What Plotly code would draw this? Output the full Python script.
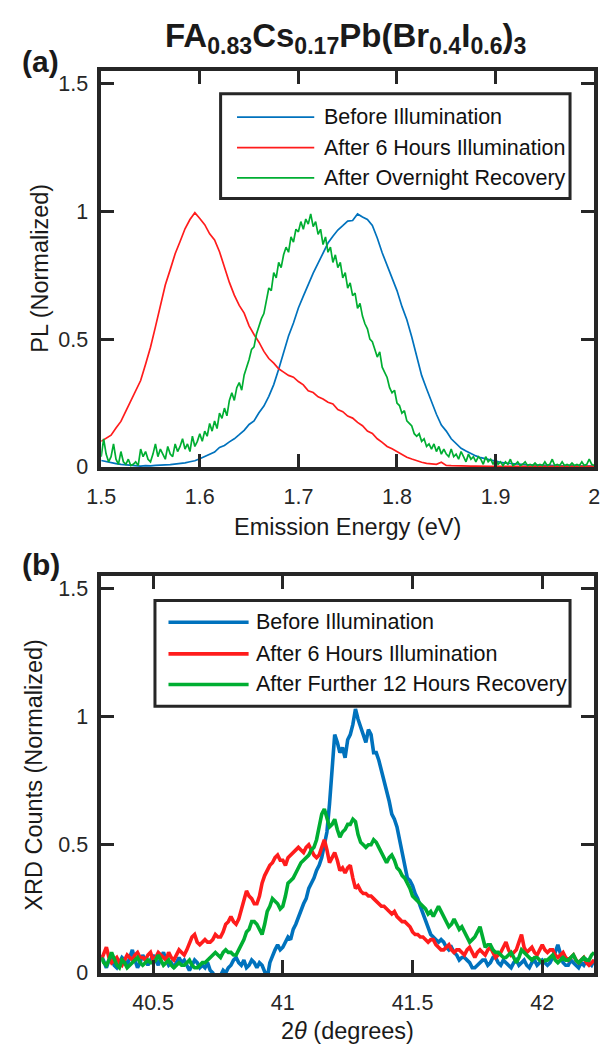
import plotly.graph_objects as go

# ---------------- (a) photoluminescence spectra ----------------
pl_energy = [
    1.500, 1.505, 1.510, 1.515, 1.520, 1.525, 1.530, 1.535, 1.540, 1.545,
    1.550, 1.555, 1.560, 1.565, 1.570, 1.575, 1.580, 1.585, 1.590, 1.595,
    1.600, 1.605, 1.610, 1.615, 1.620, 1.625, 1.630, 1.635, 1.640, 1.645,
    1.650, 1.655, 1.660, 1.665, 1.670, 1.675, 1.680, 1.685, 1.690, 1.695,
    1.700, 1.705, 1.710, 1.715, 1.720, 1.725, 1.730, 1.735, 1.740, 1.745,
    1.750, 1.755, 1.760, 1.765, 1.770, 1.775, 1.780, 1.785, 1.790, 1.795,
    1.800, 1.805, 1.810, 1.815, 1.820, 1.825, 1.830, 1.835, 1.840, 1.845,
    1.850, 1.855, 1.860, 1.865, 1.870, 1.875, 1.880, 1.885, 1.890, 1.895,
    1.900, 1.905, 1.910, 1.915, 1.920, 1.925, 1.930, 1.935, 1.940, 1.945,
    1.950, 1.955, 1.960, 1.965, 1.970, 1.975, 1.980, 1.985, 1.990, 1.995,
    2.000,
]

pl_before = [
    0.025, 0.020, 0.018, 0.013, 0.010, 0.008, 0.006, 0.004, 0.003, 0.005,
    0.004, 0.006, 0.006, 0.008, 0.009, 0.011, 0.013, 0.016, 0.020, 0.024,
    0.032, 0.040, 0.050, 0.058, 0.076, 0.084, 0.098, 0.110, 0.126, 0.143,
    0.166, 0.180, 0.212, 0.238, 0.276, 0.322, 0.382, 0.443, 0.512, 0.563,
    0.622, 0.668, 0.716, 0.758, 0.797, 0.834, 0.876, 0.903, 0.927, 0.944,
    0.962, 0.964, 0.990, 0.978, 0.968, 0.945, 0.896, 0.838, 0.786, 0.734,
    0.690, 0.628, 0.576, 0.508, 0.432, 0.358, 0.306, 0.254, 0.206, 0.164,
    0.140, 0.110, 0.091, 0.073, 0.062, 0.051, 0.043, 0.036, 0.031, 0.025,
    0.022, 0.018, 0.015, 0.013, 0.011, 0.010, 0.009, 0.008, 0.008, 0.007,
    0.006, 0.006, 0.005, 0.005, 0.005, 0.004, 0.004, 0.004, 0.003, 0.003,
    0.003,
]

pl_after_illum = [
    0.100, 0.112, 0.124, 0.152, 0.178, 0.218, 0.258, 0.298, 0.338, 0.402,
    0.468, 0.548, 0.632, 0.712, 0.772, 0.834, 0.882, 0.932, 0.968, 0.995,
    0.972, 0.948, 0.912, 0.888, 0.842, 0.782, 0.722, 0.672, 0.632, 0.602,
    0.552, 0.518, 0.488, 0.452, 0.424, 0.406, 0.384, 0.371, 0.358, 0.351,
    0.334, 0.321, 0.298, 0.291, 0.274, 0.266, 0.253, 0.246, 0.224, 0.216,
    0.199, 0.191, 0.174, 0.161, 0.140, 0.131, 0.110, 0.096, 0.080, 0.071,
    0.059, 0.049, 0.038, 0.031, 0.024, 0.018, 0.014, 0.012, 0.010, 0.018,
    0.006, 0.005, 0.004, 0.004, 0.003, 0.003, 0.003, 0.002, 0.002, 0.002,
    0.002, 0.002, 0.002, 0.002, 0.002, 0.002, 0.002, 0.002, 0.002, 0.002,
    0.002, 0.002, 0.002, 0.002, 0.002, 0.002, 0.002, 0.002, 0.002, 0.002,
    0.002,
]

# the recovered spectrum is noisier, so it is kept at a finer step
pl_energy_fine = [
    1.5000, 1.5025, 1.5050, 1.5075, 1.5100, 1.5125, 1.5150, 1.5175, 1.5200, 1.5225,
    1.5250, 1.5275, 1.5300, 1.5325, 1.5350, 1.5375, 1.5400, 1.5425, 1.5450, 1.5475,
    1.5500, 1.5525, 1.5550, 1.5575, 1.5600, 1.5625, 1.5650, 1.5675, 1.5700, 1.5725,
    1.5750, 1.5775, 1.5800, 1.5825, 1.5850, 1.5875, 1.5900, 1.5925, 1.5950, 1.5975,
    1.6000, 1.6025, 1.6050, 1.6075, 1.6100, 1.6125, 1.6150, 1.6175, 1.6200, 1.6225,
    1.6250, 1.6275, 1.6300, 1.6325, 1.6350, 1.6375, 1.6400, 1.6425, 1.6450, 1.6475,
    1.6500, 1.6525, 1.6550, 1.6575, 1.6600, 1.6625, 1.6650, 1.6675, 1.6700, 1.6725,
    1.6750, 1.6775, 1.6800, 1.6825, 1.6850, 1.6875, 1.6900, 1.6925, 1.6950, 1.6975,
    1.7000, 1.7025, 1.7050, 1.7075, 1.7100, 1.7125, 1.7150, 1.7175, 1.7200, 1.7225,
    1.7250, 1.7275, 1.7300, 1.7325, 1.7350, 1.7375, 1.7400, 1.7425, 1.7450, 1.7475,
    1.7500, 1.7525, 1.7550, 1.7575, 1.7600, 1.7625, 1.7650, 1.7675, 1.7700, 1.7725,
    1.7750, 1.7775, 1.7800, 1.7825, 1.7850, 1.7875, 1.7900, 1.7925, 1.7950, 1.7975,
    1.8000, 1.8025, 1.8050, 1.8075, 1.8100, 1.8125, 1.8150, 1.8175, 1.8200, 1.8225,
    1.8250, 1.8275, 1.8300, 1.8325, 1.8350, 1.8375, 1.8400, 1.8425, 1.8450, 1.8475,
    1.8500, 1.8525, 1.8550, 1.8575, 1.8600, 1.8625, 1.8650, 1.8675, 1.8700, 1.8725,
    1.8750, 1.8775, 1.8800, 1.8825, 1.8850, 1.8875, 1.8900, 1.8925, 1.8950, 1.8975,
    1.9000, 1.9025, 1.9050, 1.9075, 1.9100, 1.9125, 1.9150, 1.9175, 1.9200, 1.9225,
    1.9250, 1.9275, 1.9300, 1.9325, 1.9350, 1.9375, 1.9400, 1.9425, 1.9450, 1.9475,
    1.9500, 1.9525, 1.9550, 1.9575, 1.9600, 1.9625, 1.9650, 1.9675, 1.9700, 1.9725,
    1.9750, 1.9775, 1.9800, 1.9825, 1.9850, 1.9875, 1.9900, 1.9925, 1.9950, 1.9975,
    2.0000,
]

pl_recovered = [
    0.040, 0.110, 0.050, 0.020, 0.040, 0.090, 0.030, 0.010, 0.060, 0.020,
    0.010, 0.030, 0.005, 0.010, 0.020, 0.005, 0.070, 0.040, 0.060, 0.030,
    0.020, 0.050, 0.090, 0.040, 0.070, 0.050, 0.030, 0.080, 0.050, 0.040,
    0.090, 0.060, 0.080, 0.110, 0.070, 0.090, 0.060, 0.120, 0.080, 0.100,
    0.130, 0.100, 0.140, 0.120, 0.170, 0.140, 0.180, 0.150, 0.210, 0.190,
    0.230, 0.200, 0.260, 0.290, 0.260, 0.310, 0.330, 0.300, 0.360, 0.390,
    0.420, 0.460, 0.470, 0.520, 0.550, 0.580, 0.600, 0.650, 0.700, 0.690,
    0.760, 0.740, 0.800, 0.780, 0.830, 0.860, 0.840, 0.900, 0.880, 0.930,
    0.920, 0.960, 0.930, 0.970, 0.950, 0.990, 0.940, 0.960, 0.910, 0.930,
    0.870, 0.900, 0.840, 0.860, 0.800, 0.830, 0.780, 0.800, 0.740, 0.760,
    0.700, 0.720, 0.670, 0.680, 0.620, 0.640, 0.590, 0.560, 0.540, 0.500,
    0.490, 0.460, 0.430, 0.450, 0.390, 0.370, 0.350, 0.310, 0.290, 0.300,
    0.250, 0.240, 0.210, 0.220, 0.180, 0.170, 0.160, 0.130, 0.120, 0.130,
    0.100, 0.110, 0.080, 0.090, 0.070, 0.090, 0.060, 0.080, 0.050, 0.070,
    0.050, 0.040, 0.070, 0.040, 0.050, 0.030, 0.060, 0.040, 0.020, 0.050,
    0.030, 0.040, 0.020, 0.040, 0.030, 0.010, 0.040, 0.020, 0.030, 0.010,
    0.030, 0.010, 0.020, 0.005, 0.020, 0.010, 0.030, 0.005, 0.010, 0.020,
    0.005, 0.010, 0.020, 0.005, 0.010, 0.005, 0.015, 0.005, 0.010, 0.005,
    0.020, 0.005, 0.010, 0.030, 0.005, 0.010, 0.005, 0.020, 0.005, 0.010,
    0.005, 0.015, 0.005, 0.010, 0.005, 0.020, 0.005, 0.010, 0.030, 0.010,
    0.005,
]

# ---------------- (b) X-ray diffraction peak ----------------
xrd_angle = [
    40.30, 40.31, 40.32, 40.33, 40.34, 40.35, 40.36, 40.37, 40.38, 40.39,
    40.40, 40.41, 40.42, 40.43, 40.44, 40.45, 40.46, 40.47, 40.48, 40.49,
    40.50, 40.51, 40.52, 40.53, 40.54, 40.55, 40.56, 40.57, 40.58, 40.59,
    40.60, 40.61, 40.62, 40.63, 40.64, 40.65, 40.66, 40.67, 40.68, 40.69,
    40.70, 40.71, 40.72, 40.73, 40.74, 40.75, 40.76, 40.77, 40.78, 40.79,
    40.80, 40.81, 40.82, 40.83, 40.84, 40.85, 40.86, 40.87, 40.88, 40.89,
    40.90, 40.91, 40.92, 40.93, 40.94, 40.95, 40.96, 40.97, 40.98, 40.99,
    41.00, 41.01, 41.02, 41.03, 41.04, 41.05, 41.06, 41.07, 41.08, 41.09,
    41.10, 41.11, 41.12, 41.13, 41.14, 41.15, 41.16, 41.17, 41.18, 41.19,
    41.20, 41.21, 41.22, 41.23, 41.24, 41.25, 41.26, 41.27, 41.28, 41.29,
    41.30, 41.31, 41.32, 41.33, 41.34, 41.35, 41.36, 41.37, 41.38, 41.39,
    41.40, 41.41, 41.42, 41.43, 41.44, 41.45, 41.46, 41.47, 41.48, 41.49,
    41.50, 41.51, 41.52, 41.53, 41.54, 41.55, 41.56, 41.57, 41.58, 41.59,
    41.60, 41.61, 41.62, 41.63, 41.64, 41.65, 41.66, 41.67, 41.68, 41.69,
    41.70, 41.71, 41.72, 41.73, 41.74, 41.75, 41.76, 41.77, 41.78, 41.79,
    41.80, 41.81, 41.82, 41.83, 41.84, 41.85, 41.86, 41.87, 41.88, 41.89,
    41.90, 41.91, 41.92, 41.93, 41.94, 41.95, 41.96, 41.97, 41.98, 41.99,
    42.00, 42.01, 42.02, 42.03, 42.04, 42.05, 42.06, 42.07, 42.08, 42.09,
    42.10, 42.11, 42.12, 42.13, 42.14, 42.15, 42.16, 42.17, 42.18, 42.19,
    42.20,
]

xrd_before = [
    0.07, 0.04, 0.02, 0.05, 0.06, 0.03, 0.02, 0.04, 0.06, 0.05,
    0.03, 0.06, 0.09, 0.05, 0.02, 0.04, 0.07, 0.05, 0.03, 0.05,
    0.07, 0.05, 0.03, 0.06, 0.08, 0.05, 0.03, 0.04, 0.02, 0.04,
    0.06, 0.04, 0.05, 0.03, 0.01, 0.03, 0.05, 0.04, 0.02, 0.03,
    0.02, 0.04, 0.01, 0.00, -0.02, -0.03, -0.01, 0.01, 0.00, 0.02,
    0.03, 0.05, 0.06, 0.04, 0.03, 0.05, 0.02, 0.03, 0.05, 0.04,
    0.02, 0.04, 0.03, 0.00, -0.02, 0.04, 0.07, 0.09, 0.11, 0.09,
    0.10, 0.12, 0.14, 0.13, 0.17, 0.19, 0.22, 0.24, 0.27, 0.29,
    0.33, 0.35, 0.37, 0.40, 0.42, 0.45, 0.50, 0.55, 0.66, 0.80,
    0.93, 0.90, 0.86, 0.88, 0.84, 0.91, 0.93, 0.97, 1.03, 0.99,
    0.96, 0.92, 0.90, 0.95, 0.93, 0.86, 0.86, 0.83, 0.79, 0.76,
    0.72, 0.67, 0.62, 0.60, 0.57, 0.52, 0.47, 0.42, 0.37, 0.36,
    0.34, 0.31, 0.29, 0.26, 0.23, 0.20, 0.17, 0.15, 0.14, 0.13,
    0.12, 0.13, 0.12, 0.10, 0.09, 0.10, 0.08, 0.07, 0.05, 0.06,
    0.06, 0.05, 0.04, 0.02, 0.02, 0.03, 0.04, 0.05, 0.05, 0.03,
    0.04, 0.06, 0.06, 0.04, 0.03, 0.05, 0.04, 0.03, 0.02, 0.04,
    0.05, 0.03, 0.04, 0.05, 0.03, 0.02, 0.04, 0.05, 0.03, 0.04,
    0.05, 0.04, 0.03, 0.04, 0.06, 0.08, 0.11, 0.07, 0.04, 0.03,
    0.03, 0.05, 0.04, 0.03, 0.02, 0.04, 0.03, 0.05, 0.04, 0.03,
    0.05,
]

xrd_after_illum = [
    0.05, 0.08, 0.10, 0.06, 0.04, 0.05, 0.06, 0.04, 0.03, 0.05,
    0.07, 0.06, 0.05, 0.07, 0.08, 0.06, 0.06, 0.05, 0.07, 0.08,
    0.05, 0.06, 0.08, 0.07, 0.06, 0.05, 0.08, 0.06, 0.05, 0.07,
    0.09, 0.08, 0.07, 0.09, 0.12, 0.14, 0.15, 0.12, 0.11, 0.12,
    0.13, 0.12, 0.12, 0.13, 0.15, 0.14, 0.14, 0.16, 0.19, 0.20,
    0.22, 0.20, 0.19, 0.21, 0.25, 0.28, 0.32, 0.30, 0.29, 0.27,
    0.27, 0.30, 0.35, 0.38, 0.40, 0.42, 0.43, 0.45, 0.46, 0.44,
    0.44, 0.42, 0.45, 0.46, 0.47, 0.48, 0.49, 0.48, 0.47, 0.49,
    0.50, 0.48, 0.46, 0.45, 0.46, 0.49, 0.52, 0.48, 0.43, 0.45,
    0.47, 0.44, 0.40, 0.41, 0.39, 0.41, 0.42, 0.37, 0.33, 0.34,
    0.32, 0.31, 0.31, 0.30, 0.30, 0.29, 0.28, 0.27, 0.26, 0.26,
    0.25, 0.24, 0.23, 0.24, 0.22, 0.21, 0.20, 0.20, 0.19, 0.18,
    0.16, 0.15, 0.15, 0.14, 0.14, 0.13, 0.12, 0.13, 0.13, 0.11,
    0.10, 0.09, 0.09, 0.10, 0.11, 0.09, 0.08, 0.09, 0.09, 0.08,
    0.07, 0.09, 0.10, 0.08, 0.06, 0.08, 0.09, 0.08, 0.07, 0.09,
    0.10, 0.08, 0.06, 0.07, 0.08, 0.10, 0.12, 0.09, 0.07, 0.08,
    0.09, 0.12, 0.15, 0.10, 0.08, 0.09, 0.10, 0.08, 0.07, 0.09,
    0.11, 0.09, 0.08, 0.09, 0.09, 0.07, 0.06, 0.07, 0.08, 0.06,
    0.05, 0.06, 0.07, 0.05, 0.04, 0.05, 0.06, 0.04, 0.03, 0.04,
    0.05,
]

xrd_recovered = [
    0.06, 0.04, 0.03, 0.05, 0.08, 0.05, 0.03, 0.02, 0.05, 0.04,
    0.02, 0.03, 0.04, 0.05, 0.06, 0.04, 0.03, 0.04, 0.05, 0.04,
    0.04, 0.05, 0.07, 0.05, 0.03, 0.04, 0.05, 0.03, 0.02, 0.03,
    0.04, 0.03, 0.03, 0.04, 0.05, 0.03, 0.02, 0.02, 0.03, 0.04,
    0.04, 0.05, 0.06, 0.07, 0.08, 0.07, 0.06, 0.08, 0.09, 0.08,
    0.08, 0.07, 0.07, 0.09, 0.11, 0.13, 0.16, 0.17, 0.20, 0.20,
    0.19, 0.17, 0.15, 0.19, 0.24, 0.26, 0.29, 0.28, 0.27, 0.25,
    0.26, 0.30, 0.35, 0.36, 0.37, 0.39, 0.41, 0.43, 0.44, 0.45,
    0.46, 0.48, 0.49, 0.52, 0.57, 0.62, 0.64, 0.60, 0.57, 0.58,
    0.60, 0.56, 0.53, 0.55, 0.56, 0.58, 0.58, 0.60, 0.59, 0.54,
    0.51, 0.50, 0.49, 0.50, 0.50, 0.52, 0.51, 0.49, 0.47, 0.45,
    0.43, 0.45, 0.46, 0.44, 0.41, 0.40, 0.38, 0.37, 0.35, 0.33,
    0.30, 0.29, 0.28, 0.27, 0.26, 0.25, 0.23, 0.24, 0.22, 0.24,
    0.26, 0.24, 0.22, 0.20, 0.18, 0.19, 0.21, 0.19, 0.17, 0.18,
    0.16, 0.14, 0.12, 0.13, 0.14, 0.16, 0.18, 0.14, 0.10, 0.11,
    0.11, 0.09, 0.08, 0.08, 0.07, 0.06, 0.06, 0.07, 0.08, 0.06,
    0.04, 0.06, 0.09, 0.08, 0.07, 0.06, 0.05, 0.06, 0.06, 0.05,
    0.04, 0.05, 0.05, 0.06, 0.07, 0.05, 0.04, 0.05, 0.06, 0.05,
    0.05, 0.06, 0.07, 0.05, 0.04, 0.05, 0.06, 0.05, 0.05, 0.07,
    0.08,
]

pl_names = ["Before Illumination", "After 6 Hours Illumination", "After Overnight Recovery"]
xrd_names = ["Before Illumination", "After 6 Hours Illumination", "After Further 12 Hours Recovery"]
colors = ["#0072BD", "#FF1C1C", "#00AE32"]

pl_ticks = [1.5, 1.6, 1.7, 1.8, 1.9, 2.0]
pl_ticktext = ["1.5", "1.6", "1.7", "1.8", "1.9", "2"]
xrd_ticks = [40.5, 41.0, 41.5, 42.0]
xrd_ticktext = ["40.5", "41", "41.5", "42"]
y_ticks = [0, 0.5, 1, 1.5]
y_ticktext = ["0", "0.5", "1", "1.5"]

W, H = 605, 1059
FONT = "Liberation Sans, Arial, Helvetica, sans-serif"
INK = "#262626"


def px(x):
    return x / W


def py(y):
    return 1 - y / H


fig = go.Figure()

pl_series = [(pl_energy, pl_before), (pl_energy, pl_after_illum), (pl_energy_fine, pl_recovered)]
for (xs, vals), name, col in zip(pl_series, pl_names, colors):
    fig.add_trace(go.Scatter(x=xs, y=vals, mode="lines", name=name,
                             line=dict(color=col, width=1.7), xaxis="x", yaxis="y",
                             showlegend=False, cliponaxis=False))

for vals, name, col in zip([xrd_before, xrd_after_illum, xrd_recovered], xrd_names, colors):
    fig.add_trace(go.Scatter(x=xrd_angle, y=vals, mode="lines", name=name,
                             line=dict(color=col, width=3.6), xaxis="x2", yaxis="y2",
                             showlegend=False, cliponaxis=False))

axis_common = dict(showline=True, linewidth=3.5, linecolor=INK, mirror="ticks",
                   ticks="inside", ticklen=13, tickwidth=3, tickcolor=INK,
                   showgrid=False, zeroline=False,
                   tickfont=dict(family=FONT, size=21.5, color=INK))
x_extra = dict(ticklabeloverflow="allow", ticklabelstandoff=8)
y_extra = dict(ticklabelstandoff=5)

x_dom = [px(89.3), px(600)]
fig.update_layout(
    width=W, height=H,
    margin=dict(l=0, r=0, t=0, b=0),
    paper_bgcolor="white", plot_bgcolor="white",
    xaxis=dict(domain=x_dom, range=[1.5, 2.0], tickvals=pl_ticks, ticktext=pl_ticktext,
               anchor="y", **axis_common, **x_extra),
    yaxis=dict(domain=[py(472.7), py(71.7)], range=[0, 1.55], tickvals=y_ticks,
               ticktext=y_ticktext, anchor="x", **axis_common, **y_extra),
    xaxis2=dict(domain=x_dom, range=[40.3, 42.2], tickvals=xrd_ticks, ticktext=xrd_ticktext,
                anchor="y2", **axis_common, **x_extra),
    yaxis2=dict(domain=[py(985), py(583)], range=[0, 1.55], tickvals=y_ticks,
                ticktext=y_ticktext, anchor="x2", **axis_common, **y_extra),
    showlegend=False,
)

annotations = []
shapes = []


def text(x, y, s, size, angle=0, xanchor="center", yanchor="middle", color="#1a1a1a"):
    annotations.append(dict(
        x=px(x), y=py(y), xref="paper", yref="paper", text=s, showarrow=False,
        textangle=angle, xanchor=xanchor, yanchor=yanchor,
        font=dict(family=FONT, size=size, color=color)))


# title and panel tags
text(343, 38, "<b>FA<sub>0.83</sub>Cs<sub>0.17</sub>Pb(Br<sub>0.4</sub>I<sub>0.6</sub>)<sub>3</sub></b>", 33)
text(5, 62, "<b>(a)</b>", 30, xanchor="left")
text(5, 572, "<b>(b)</b>", 30, xanchor="left")

# axis titles
text(26, 272, "PL (Normalized)", 23.5, angle=-90)
text(344, 534, "Emission Energy (eV)", 23.5)
text(20, 784, "XRD Counts (Normalized)", 23.5, angle=-90)
text(344, 1044, "2<i>θ</i> (degrees)", 23.5)


def legend_box(x0, y0, x1, y1, rows, names, lw, lx0, lx1, tx):
    shapes.append(dict(type="rect", xref="paper", yref="paper",
                       x0=px(x0), x1=px(x1), y0=py(y0), y1=py(y1),
                       line=dict(color=INK, width=3), fillcolor="white"))
    for ry, name, col in zip(rows, names, colors):
        shapes.append(dict(type="line", xref="paper", yref="paper",
                           x0=px(lx0), x1=px(lx1), y0=py(ry), y1=py(ry),
                           line=dict(color=col, width=lw)))
        text(tx, ry, name, 21.5, xanchor="left", color="#111111")


legend_box(213, 95, 575, 201, [118.5, 149.5, 180], pl_names, 1.8, 230, 310, 318)
legend_box(145, 608, 575, 715, [630, 662, 693], xrd_names, 3.6, 159, 242, 248)

fig.update_layout(annotations=annotations, shapes=shapes)
fig.write_html("out.html")
